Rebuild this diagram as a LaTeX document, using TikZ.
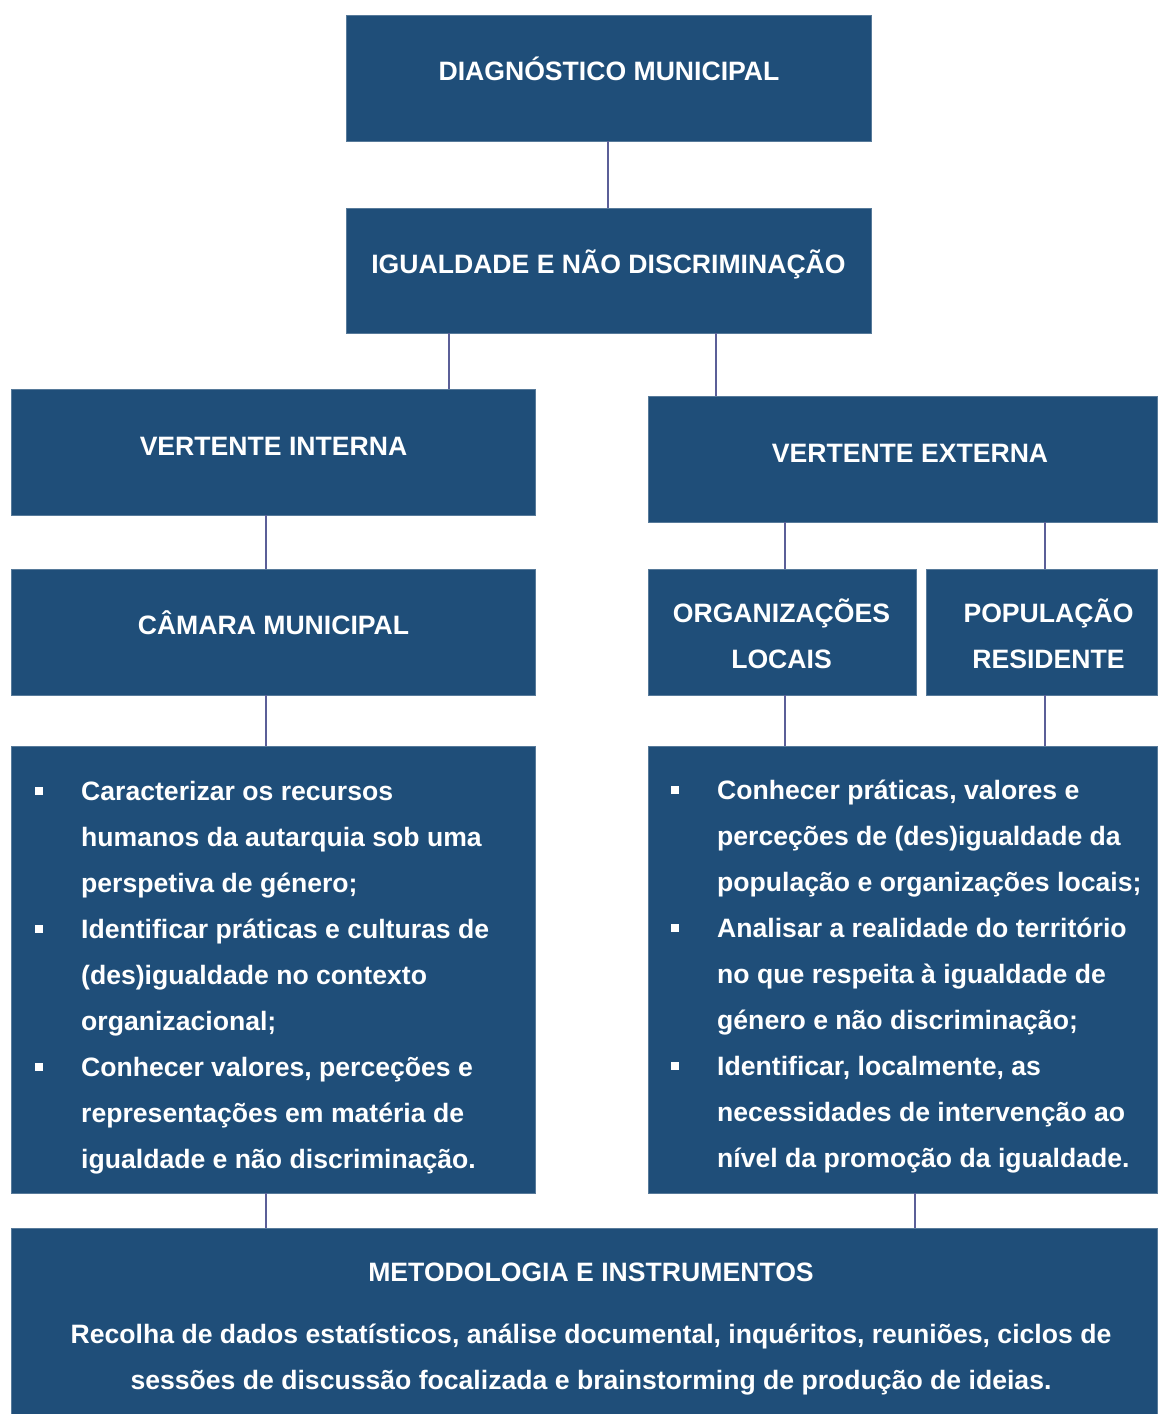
\documentclass[tikz,border=0pt]{standalone}
\usepackage{fontspec}
\setmainfont{Liberation Sans}
\usepackage{xcolor}
\definecolor{boxblue}{HTML}{1F4E79}
\definecolor{linkline}{HTML}{5B5F98}
\newcommand{\bul}{\makebox[46pt][l]{\rule[5.5pt]{7.5pt}{7.5pt}}}
\newcommand{\ind}{\hspace*{46pt}}
\tikzset{
  box/.style={rectangle, draw=boxblue!75!white, fill=boxblue, anchor=north west, inner sep=0pt, outer sep=0pt, line width=0.6pt},
  title/.style={anchor=north, inner sep=0pt, align=center, text=white, font=\fontsize{26.6}{46}\selectfont\bfseries},
  items/.style={title, anchor=north west, align=left},
  link/.style={draw=linkline, line width=1.3pt}
}
\begin{document}
\begin{tikzpicture}[x=1pt,y=-1pt]
  \useasboundingbox (0,0) rectangle (1158,1414);
  % boxes
  \node[box, minimum width=525pt, minimum height=126pt] (D) at (346,15) {};
  \node[box, minimum width=525pt, minimum height=125pt] (I) at (346,208) {};
  \node[box, minimum width=524pt, minimum height=126pt] (VI) at (11,389) {};
  \node[box, minimum width=509pt, minimum height=126pt] (VE) at (648,396) {};
  \node[box, minimum width=524pt, minimum height=126pt] (CM) at (11,569) {};
  \node[box, minimum width=268pt, minimum height=126pt] (OL) at (648,569) {};
  \node[box, minimum width=231pt, minimum height=126pt] (PR) at (926,569) {};
  \node[box, minimum width=524pt, minimum height=447pt] (LL) at (11,746) {};
  \node[box, minimum width=509pt, minimum height=447pt] (RL) at (648,746) {};
  \node[box, minimum width=1146pt, minimum height=186pt] (M) at (11,1228) {};

  % connectors
  \foreach \a/\b/\x in {D/I/608, I/VI/449, I/VE/716, VI/CM/266, CM/LL/266, LL/M/266,
                        VE/OL/785, OL/RL/785, VE/PR/1045, PR/RL/1045, RL/M/915}
    \draw[link] (\a.south -| \x,0) -- (\b.north -| \x,0);

  % texts
  \node[title] (Dt) at (609,48) {\strut DIAGNÓSTICO MUNICIPAL};
  \node[title] (It) at (608.5,241) {\strut IGUALDADE E NÃO DISCRIMINAÇÃO};
  \node[title] (VIt) at (273.5,423) {\strut VERTENTE INTERNA};
  \node[title] (VEt) at (910,430) {\strut VERTENTE EXTERNA};
  \node[title] (CMt) at (273.5,602) {\strut CÂMARA MUNICIPAL};
  \node[title] (OLt) at (781.5,590) {\strut ORGANIZAÇÕES\\LOCAIS};
  \node[title] (PRt) at (1048.5,590) {\strut POPULAÇÃO\\RESIDENTE};

  \node[items] (LLt) at (35,768) {\strut\bul Caracterizar os recursos\\
    \ind humanos da autarquia sob uma\\
    \ind perspetiva de género;\\
    \bul Identificar práticas e culturas de\\
    \ind (des)igualdade no contexto\\
    \ind organizacional;\\
    \bul Conhecer valores, perceções e\\
    \ind representações em matéria de\\
    \ind igualdade e não discriminação.};
  \node[items] (RLt) at (671,767) {\strut\bul Conhecer práticas, valores e\\
    \ind perceções de (des)igualdade da\\
    \ind população e organizações locais;\\
    \bul Analisar a realidade do território\\
    \ind no que respeita à igualdade de\\
    \ind género e não discriminação;\\
    \bul Identificar, localmente, as\\
    \ind necessidades de intervenção ao\\
    \ind nível da promoção da igualdade.};

  \node[title] (Mt) at (591,1249) {\strut METODOLOGIA E INSTRUMENTOS};
  \node[title] (Mb) at (591,1311) {\strut Recolha de dados estatísticos, análise documental, inquéritos, reuniões, ciclos de\\
    sessões de discussão focalizada e brainstorming de produção de ideias.};
\end{tikzpicture}
\end{document}
